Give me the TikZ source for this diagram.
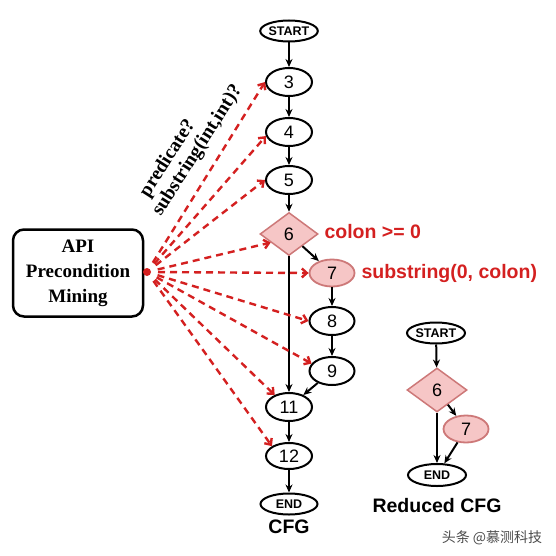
\documentclass[tikz,border=0pt]{standalone}
\usepackage{fontspec}
\setmainfont{Liberation Serif}
\setsansfont{Liberation Sans}
\newfontfamily\cjk{Noto Sans CJK SC}
\usetikzlibrary{shapes.geometric,arrows.meta,calc}
\definecolor{cred}{RGB}{212,32,32}
\definecolor{pinkfill}{RGB}{246,198,198}
\definecolor{pinkline}{RGB}{205,120,120}
\begin{document}
\begin{tikzpicture}[x=1pt,y=-1pt,
  cfgnode/.style={ellipse,draw=black,line width=2pt,inner sep=0pt,
    minimum width=46pt,minimum height=28pt,font=\sffamily\fontsize{18}{18}\selectfont},
  termnode/.style={ellipse,draw=black,line width=2pt,inner sep=0pt,
    minimum width=57pt,minimum height=21pt,font=\sffamily\bfseries\fontsize{12.5}{12.5}\selectfont},
  condnode/.style={diamond,draw=pinkline,fill=pinkfill,line width=1.5pt,inner sep=0pt,
    minimum width=58pt,minimum height=43pt,font=\sffamily\fontsize{18}{18}\selectfont},
  callnode/.style={ellipse,draw=pinkline,fill=pinkfill,line width=1.8pt,inner sep=0pt,
    minimum width=45pt,minimum height=27pt,font=\sffamily\fontsize{18}{18}\selectfont},
  flow/.style={line width=2pt,-{Stealth[length=8pt,width=7pt]}},
  mine/.style={cred,line width=2.4pt,dash pattern=on 7pt off 5pt,
    -{Straight Barb[length=5pt,width=9pt]}},
  redlabel/.style={cred,font=\sffamily\bfseries\fontsize{19.5}{19.5}\selectfont,anchor=west},
  caption/.style={font=\sffamily\bfseries\fontsize{19.5}{19.5}\selectfont}]
\useasboundingbox (0,0) rectangle (556,556);

% main CFG
\node[termnode] (start) at (289,31) {START};
\node[cfgnode] (n3) at (289,82) {3};
\node[cfgnode] (n4) at (289,132) {4};
\node[cfgnode] (n5) at (289,180) {5};
\node[condnode] (n6) at (289,234) {6};
\node[callnode] (n7) at (332,273) {7};
\node[cfgnode,minimum width=45pt] (n8) at (332,321) {8};
\node[cfgnode,minimum width=45pt] (n9) at (332,371) {9};
\node[cfgnode] (n11) at (289,407) {11};
\node[cfgnode,minimum height=26pt] (n12) at (289,456) {12};
\node[termnode] (end) at (289,504) {END};
\node[caption] (cfglabel) at (289,527) {CFG};

\node[redlabel] (lcolon) at (321,232) {colon >= 0};
\node[redlabel] (lsub) at (358,273) {substring(0, colon)};

\draw[flow] (start) -- (n3);
\draw[flow] (n3) -- (n4);
\draw[flow] (n4) -- (n5);
\draw[flow] (n5) -- (n6);
\draw[flow] (n6) -- (n7);
\draw[flow] (n6.south) -- (n11.north);
\draw[flow] (n7) -- (n8);
\draw[flow] (n8) -- (n9);
\draw[flow] (n9) -- (n11);
\draw[flow] (n11) -- (n12);
\draw[flow] (n12) -- (end);

% API box
\node[draw=black,line width=2.5pt,rounded corners=11pt,minimum width=130pt,minimum height=87pt,
  align=center,font=\bfseries\fontsize{19}{25}\selectfont] (api) at (78,273)
  {API\\Precondition\\Mining};
\node[circle,fill=cred,inner sep=0pt,minimum size=8pt] (dot) at (147,272) {};

\node[rotate=57.5,align=left,inner sep=0pt,font=\bfseries\fontsize{19.5}{20.5}\selectfont] (plabel) at (189,145)
  {\hspace*{9pt}predicate?\\substring(int,int)?};

\foreach \t in {n3.west,n4.190,n5.west,n6.205,n7.west,n8.west,n9.160,n11.140,n12.150}{
  \draw[mine] ($(dot)!11pt!(\t)$) -- (\t);
}

% reduced CFG
\node[termnode,minimum width=58pt] (rstart) at (436,333) {START};
\node[condnode,minimum width=60pt,minimum height=44pt] (r6) at (437,390) {6};
\node[callnode] (r7) at (466,429) {7};
\node[termnode,minimum width=58pt,minimum height=22pt] (rend) at (437,475) {END};
\node[caption] (rlabel) at (437,506) {Reduced CFG};

\draw[flow] (rstart) -- (r6);
\draw[flow] (r6) -- (r7);
\draw[flow] (r6.south) -- (rend.north);
\draw[flow] (r7) -- (rend);

% watermark
\node[font=\cjk\fontsize{14}{14}\selectfont,text=black!70] (wm) at (492,538) {头条 @慕测科技};
\end{tikzpicture}
\end{document}
